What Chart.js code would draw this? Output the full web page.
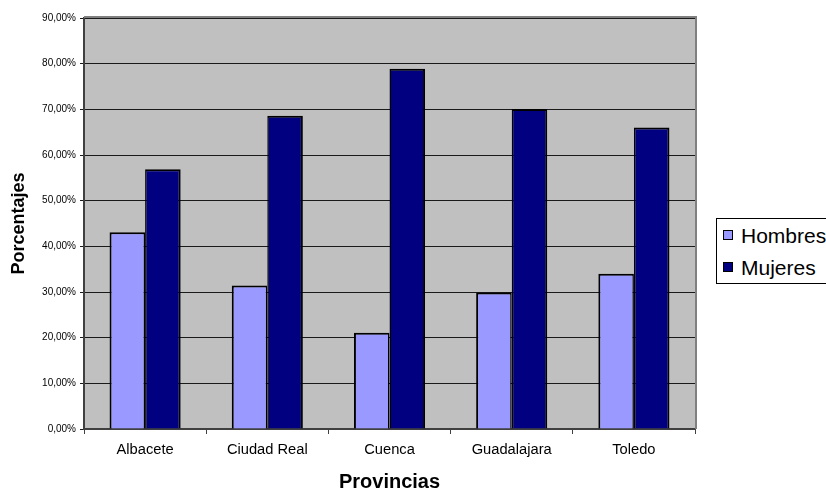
<!DOCTYPE html>
<html><head><meta charset="utf-8">
<script src="https://cdn.jsdelivr.net/npm/chart.js@4"></script>
<style>
html,body{margin:0;padding:0;background:#fff;overflow:hidden;}
#wrap{position:relative;width:826px;height:492px;overflow:hidden;}
canvas{position:absolute;left:0;top:0;}
#legend{position:absolute;left:716px;top:218px;width:140px;height:64px;border:1px solid #000;background:#fff;font-family:'Liberation Sans',Arial,sans-serif;font-size:21px;color:#000;}
.item{position:absolute;left:6px;height:24px;line-height:24px;white-space:nowrap;}
.sw{display:inline-block;width:8px;height:8px;border:1.5px solid #000;vertical-align:middle;margin-right:8px;position:relative;top:-2px;}
</style></head>
<body><div id="wrap"><canvas id="c" width="826" height="492"></canvas><div id="legend"></div></div>
<script>
const categories = ['Albacete', 'Ciudad Real', 'Cuenca', 'Guadalajara', 'Toledo'];
const seriesNames = ['Hombres', 'Mujeres'];
const hombres = [43.1, 31.4, 21.1, 29.9, 34.0];
const mujeres = [56.9, 68.6, 78.9, 70.1, 66.0];
const yTickLabels = ['0,00%', '10,00%', '20,00%', '30,00%', '40,00%', '50,00%', '60,00%', '70,00%', '80,00%', '90,00%'];
const seriesColors = ['#9999FF', '#000080'];
const xTitle = 'Provincias';
const yTitle = 'Porcentajes';

const FONT = "'Liberation Sans', Arial, sans-serif";

const plotBg = {
  id: 'plotBg',
  beforeDraw(chart) {
    const {ctx, chartArea: a} = chart;
    ctx.save();
    ctx.fillStyle = '#C0C0C0';
    ctx.fillRect(a.left, a.top, a.right - a.left, a.bottom - a.top);
    ctx.restore();
  },
  afterDatasetsDraw(chart) {
    const {ctx, chartArea: a} = chart;
    ctx.save();
    ctx.strokeStyle = '#808080';
    ctx.lineWidth = 2;
    ctx.beginPath();
    ctx.moveTo(a.left, a.top - 1);
    ctx.lineTo(a.right + 1, a.top - 1);
    ctx.lineTo(a.right + 1, a.bottom);
    ctx.stroke();
    ctx.restore();
  }
};

new Chart(document.getElementById('c'), {
  type: 'bar',
  data: {
    labels: categories,
    datasets: [
      {label: seriesNames[0], data: hombres, backgroundColor: seriesColors[0], borderColor: '#000',
       borderWidth: {top: 2, left: 2, right: 1.5, bottom: 0}, borderSkipped: 'bottom',
       categoryPercentage: 0.582, barPercentage: 1.0},
      {label: seriesNames[1], data: mujeres, backgroundColor: seriesColors[1], borderColor: '#000',
       borderWidth: {top: 2, left: 1.5, right: 2, bottom: 0}, borderSkipped: 'bottom',
       categoryPercentage: 0.582, barPercentage: 1.0}
    ]
  },
  options: {
    responsive: false,
    animation: false,
    devicePixelRatio: 1,
    layout: {padding: {top: 18, right: 131, left: 0, bottom: 0}},
    plugins: {legend: {display: false}, tooltip: {enabled: false}},
    scales: {
      x: {
        offset: true,
        grid: {offset: true, drawOnChartArea: false, drawTicks: true, tickLength: 5, color: '#404040', lineWidth: 1},
        border: {display: true, color: '#404040', width: 2},
        ticks: {color: '#000', font: {family: FONT, size: 14.7}, padding: 7, maxRotation: 0, autoSkip: false},
        title: {display: true, text: xTitle, color: '#000', font: {family: FONT, size: 20, weight: 'bold'}, padding: {top: 0, bottom: -2}},
        afterFit(s) { s.height = 63; }
      },
      y: {
        min: 0, max: 90,
        grid: {color: '#1a1a1a', lineWidth: 1, tickLength: 4, drawTicks: true},
        border: {display: true, color: '#404040', width: 2},
        ticks: {stepSize: 10, color: '#000', font: {family: FONT, size: 10}, padding: 4,
          callback: (v) => yTickLabels[Math.round(v / 10)]},
        title: {display: true, text: yTitle, color: '#000', font: {family: FONT, size: 18, weight: 'bold'}, padding: {top: 8, bottom: 0}},
        afterFit(s) { s.width = 84; }
      }
    }
  },
  plugins: [plotBg]
});

const leg = document.getElementById('legend');
seriesNames.forEach((n, i) => {
  const d = document.createElement('div');
  d.className = 'item';
  d.style.top = (5 + i * 32) + 'px';
  d.innerHTML = '<span class="sw" style="background:' + seriesColors[i] + '"></span>' + n;
  leg.appendChild(d);
});
</script>
</body></html>
